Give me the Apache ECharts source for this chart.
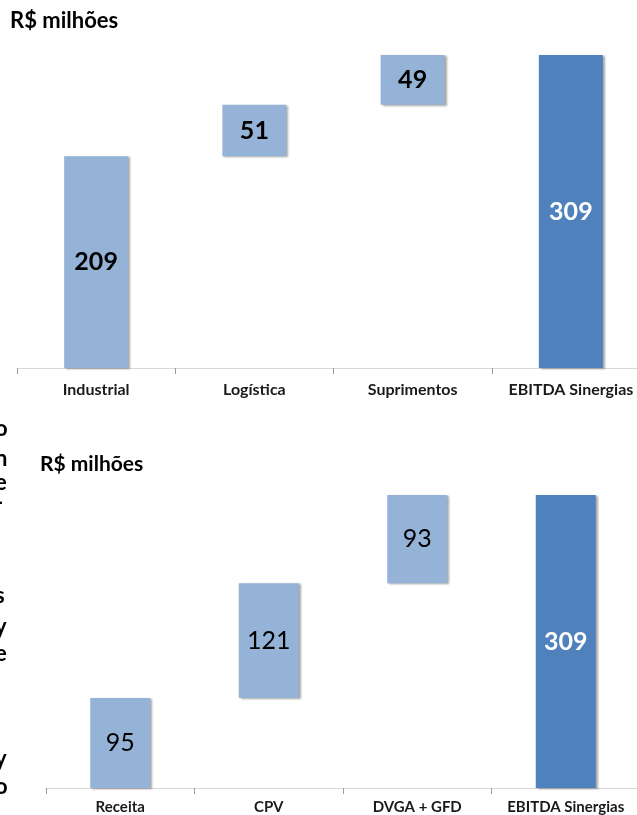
<!DOCTYPE html>
<html>
<head>
<meta charset="utf-8">
<script src="https://cdn.jsdelivr.net/npm/echarts@6/dist/echarts.min.js"></script>
<style>html,body{margin:0;padding:0;background:#fff;overflow:hidden;}#c{width:660px;height:815px;}</style>
</head>
<body>
<div id="c"></div>
<script>
const title = 'R$ milhões';
const cats1 = ['Industrial', 'Logística', 'Suprimentos', 'EBITDA Sinergias'];
const vals1 = [209, 51, 49, 309];
const cats2 = ['Receita', 'CPV', 'DVGA + GFD', 'EBITDA Sinergias'];
const vals2 = [95, 121, 93, 309];
const edgeText = ['o', 'n', 'e', '-', 's', 'y', 'e', 'l', 'y', 'o'];
const edgeY = [430, 460, 484, 504, 597, 628, 655, 681, 760, 788];

function bases(v) {
  const out = [];
  let acc = 0;
  for (let i = 0; i < v.length; i++) {
    if (i === v.length - 1) { out.push(0); }
    else { out.push(acc); acc += v[i]; }
  }
  return out;
}
const light = '#95b3d7', dark = '#4f81bd';
function colored(v, w) {
  return v.map((x, i) => ({ value: x, itemStyle: { color: i === v.length - 1 ? dark : light },
    label: { color: i === v.length - 1 ? '#ffffff' : '#000000', fontWeight: i === v.length - 1 ? 'bold' : w } }));
}
const FONT = 'Lato';
const chart = echarts.init(document.getElementById('c'), null, { renderer: 'canvas' });
function xAxis(idx, cats, margin, size) {
  return {
    type: 'category', gridIndex: idx, data: cats,
    axisLine: { lineStyle: { color: '#d9d9d9', width: 1 } },
    axisTick: { show: true, length: 6, lineStyle: { color: '#9a9a9a' } },
    axisLabel: { color: '#1a1a1a', fontFamily: FONT, fontWeight: 'bold', fontSize: size, margin: margin, interval: 0 }
  };
}
function yAxis(idx) {
  return { type: 'value', gridIndex: idx, min: 0, max: 309, show: false, splitLine: { show: false } };
}
const barStyle = { shadowColor: 'rgba(0,0,0,0.35)', shadowBlur: 2, shadowOffsetX: 2, shadowOffsetY: 1 };
const option = {
  backgroundColor: '#ffffff',
  animation: false,
  grid: [
    { left: 17, top: 55, width: 633, height: 313 },
    { left: 46, top: 495, width: 594, height: 294 }
  ],
  xAxis: [xAxis(0, cats1, 14, 16), xAxis(1, cats2, 12, 15)],
  yAxis: [yAxis(0), yAxis(1)],
  graphic: [
    { type: 'text', left: 10, top: 10, style: { text: title, font: 'bold 22px ' + FONT, fill: '#000' } },
    { type: 'text', left: 40, top: 454, style: { text: title, font: 'bold 21px ' + FONT, fill: '#000' } }
  ].concat(edgeText.map((t, i) => ({
    type: 'text', x: -5, y: edgeY[i] - 12, style: { text: t, font: 'bold 22px ' + FONT, fill: '#000' }
  }))),
  series: [
    { type: 'bar', xAxisIndex: 0, yAxisIndex: 0, stack: 'a', barWidth: 64, silent: true,
      itemStyle: { color: 'transparent' }, data: bases(vals1) },
    { type: 'bar', xAxisIndex: 0, yAxisIndex: 0, stack: 'a', barWidth: 64,
      itemStyle: barStyle,
      label: { show: true, position: 'inside', fontFamily: FONT, fontSize: 25 },
      data: colored(vals1, 'bold') },
    { type: 'bar', xAxisIndex: 1, yAxisIndex: 1, stack: 'b', barWidth: 60, silent: true,
      itemStyle: { color: 'transparent' }, data: bases(vals2) },
    { type: 'bar', xAxisIndex: 1, yAxisIndex: 1, stack: 'b', barWidth: 60,
      itemStyle: barStyle,
      label: { show: true, position: 'inside', fontFamily: FONT, fontSize: 25 },
      data: colored(vals2, 'normal') }
  ]
};
chart.setOption(option);
</script>
</body>
</html>
